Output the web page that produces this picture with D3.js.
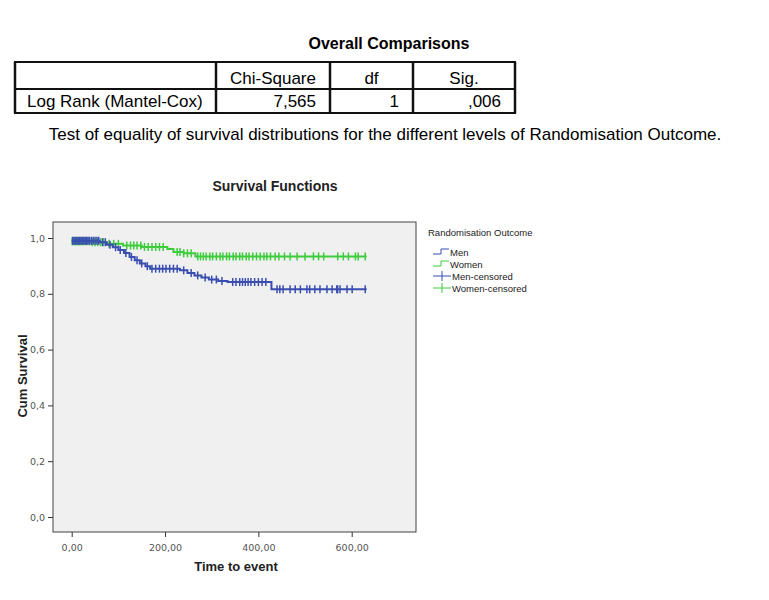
<!DOCTYPE html>
<html>
<head>
<meta charset="utf-8">
<script src="https://cdn.jsdelivr.net/npm/d3@7"></script>
<style>
  body { margin: 0; background: #fff; }
  svg { display: block; font-family: "Liberation Sans", Arial, sans-serif; }
</style>
</head>
<body>
<svg id="chart" width="769" height="600"></svg>
<script>
// Test table
const tableHeader = ["", "Chi-Square", "df", "Sig."];
const tableRow = ["Log Rank (Mantel-Cox)", "7,565", "1", ",006"];

// Kaplan-Meier steps: [time, cumulative survival after that time]
const menSteps = [
  [0, 0.990], [60, 0.985], [75, 0.976], [88, 0.967], [100, 0.957], [112, 0.946],
  [124, 0.932], [135, 0.920], [146, 0.909], [158, 0.899], [168, 0.890], [232, 0.884],
  [248, 0.875], [263, 0.866], [278, 0.858], [294, 0.851], [314, 0.846], [334, 0.842],
  [428, 0.816]
];
const womenSteps = [
  [0, 0.988], [40, 0.985], [75, 0.979], [110, 0.973], [150, 0.968], [205, 0.961],
  [218, 0.950], [240, 0.945], [265, 0.934]
];
const endTime = 632;

// censored observation times
const menCensored = [2, 5, 8, 11, 14, 17, 20, 23, 26, 29, 32, 35, 38, 42, 46, 50, 54, 58,
  66, 72, 82, 94, 104, 116, 128, 140, 150, 162, 172, 180, 188, 195, 202, 210, 218, 226,
  240, 256, 270, 286, 300, 310, 322, 345, 352, 360, 366, 372, 378, 384, 392, 400, 408,
  416, 440, 446, 453, 468, 479, 490, 504, 510, 521, 532, 547, 558, 568, 570, 575, 590,
  601, 629];
const womenCensored = [1, 3, 6, 9, 12, 15, 18, 21, 25, 29, 33, 38, 44, 50, 56, 62, 68, 80,
  90, 100, 118, 126, 133, 140, 148, 156, 164, 172, 180, 188, 196, 226, 232, 240, 248, 256,
  270, 276, 282, 288, 296, 302, 310, 318, 324, 332, 338, 346, 352, 360, 366, 374, 380,
  388, 396, 404, 412, 418, 426, 436, 444, 456, 468, 483, 500, 518, 529, 540, 570, 582,
  593, 608, 614, 629];

const xTicks = [0, 200, 400, 600];
const yTicks = [0, 0.2, 0.4, 0.6, 0.8, 1.0];

const blue = "#3a4db1";
const green = "#3ccc3c";

const svg = d3.select("#chart");

// ---------- table ----------
svg.append("text")
  .attr("x", 389).attr("y", 49)
  .attr("text-anchor", "middle")
  .attr("font-size", 16).attr("font-weight", "bold")
  .text("Overall Comparisons");

const colX = [15, 216, 330, 413, 515];
const rowY = [62, 89, 113];
const tbl = svg.append("g");
rowY.forEach(y => tbl.append("line").attr("x1", colX[0] - 1).attr("x2", colX[4] + 1)
  .attr("y1", y).attr("y2", y).attr("stroke", "#111").attr("stroke-width", 2));
colX.forEach(x => tbl.append("line").attr("x1", x).attr("x2", x)
  .attr("y1", rowY[0]).attr("y2", rowY[2]).attr("stroke", "#111").attr("stroke-width", 2.5));

tableHeader.forEach((t, i) => {
  if (!t) return;
  tbl.append("text")
    .attr("x", (colX[i] + colX[i + 1]) / 2).attr("y", 84)
    .attr("text-anchor", "middle").attr("font-size", 17)
    .text(t);
});
tableRow.forEach((t, i) => {
  tbl.append("text")
    .attr("x", i === 0 ? 27 : colX[i + 1] - 14).attr("y", 107)
    .attr("text-anchor", i === 0 ? "start" : "end").attr("font-size", 17)
    .text(t);
});

svg.append("text")
  .attr("x", 385).attr("y", 140)
  .attr("text-anchor", "middle").attr("font-size", 17)
  .text("Test of equality of survival distributions for the different levels of Randomisation Outcome.");

// ---------- chart ----------
svg.append("text")
  .attr("x", 275).attr("y", 191)
  .attr("text-anchor", "middle").attr("font-size", 14).attr("font-weight", "bold")
  .attr("fill", "#222")
  .text("Survival Functions");

const plot = { left: 53, right: 416, top: 222, bottom: 532 };
const x = d3.scaleLinear().domain([0, 600]).range([71.7, 351.7]);
const y = d3.scaleLinear().domain([0, 1]).range([517, 238]);

svg.append("rect")
  .attr("x", plot.left).attr("y", plot.top)
  .attr("width", plot.right - plot.left).attr("height", plot.bottom - plot.top)
  .attr("fill", "#f0f0f0").attr("stroke", "#444").attr("stroke-width", 1);

const fmt = d3.formatLocale({ decimal: ",", thousands: ".", grouping: [3], currency: ["", ""] });

const xAxis = svg.append("g")
  .attr("transform", `translate(0,${plot.bottom})`)
  .call(d3.axisBottom(x).tickValues(xTicks).tickSize(5).tickFormat(fmt.format(".2f")));
const yAxis = svg.append("g")
  .attr("transform", `translate(${plot.left},0)`)
  .call(d3.axisLeft(y).tickValues(yTicks).tickSize(5).tickFormat(fmt.format(".1f")));
[xAxis, yAxis].forEach(a => {
  a.select(".domain").remove();
  a.selectAll(".tick line").attr("stroke", "#333");
  a.selectAll(".tick text").attr("fill", "#555").attr("font-size", 9.5)
    .attr("font-family", "'DejaVu Sans', sans-serif");
});
xAxis.selectAll(".tick text").attr("dy", "1.2em");

svg.append("text")
  .attr("x", 236).attr("y", 571)
  .attr("text-anchor", "middle").attr("font-size", 13).attr("font-weight", "bold")
  .attr("fill", "#222")
  .text("Time to event");
svg.append("text")
  .attr("transform", "translate(27,376) rotate(-90)")
  .attr("text-anchor", "middle").attr("font-size", 13).attr("font-weight", "bold")
  .attr("fill", "#222")
  .text("Cum Survival");

function survAt(steps, t) {
  let s = steps[0][1];
  steps.forEach(d => { if (d[0] <= t) s = d[1]; });
  return s;
}

const line = d3.line().x(d => x(d[0])).y(d => y(d[1])).curve(d3.curveStepAfter);

function drawSeries(steps, censored, color) {
  const pts = steps.concat([[endTime, steps[steps.length - 1][1]]]);
  svg.append("path").datum(pts)
    .attr("d", line).attr("fill", "none")
    .attr("stroke", color).attr("stroke-width", 2);
  svg.append("g").selectAll("line").data(censored).enter().append("line")
    .attr("x1", d => x(d)).attr("x2", d => x(d))
    .attr("y1", d => y(survAt(steps, d)) - 4)
    .attr("y2", d => y(survAt(steps, d)) + 4)
    .attr("stroke", color).attr("stroke-width", 1.5);
}
drawSeries(womenSteps, womenCensored, green);
drawSeries(menSteps, menCensored, blue);

// ---------- legend ----------
const legend = svg.append("g").attr("font-size", 9.5).attr("fill", "#222");
legend.append("text").attr("x", 428).attr("y", 236).text("Randomisation Outcome");
const legendItems = [
  { label: "Men", color: blue, type: "step" },
  { label: "Women", color: green, type: "step" },
  { label: "Men-censored", color: blue, type: "cens" },
  { label: "Women-censored", color: green, type: "cens" }
];
legendItems.forEach((d, i) => {
  const cy = 252 + i * 12;
  if (d.type === "step") {
    legend.append("path")
      .attr("d", `M433,${cy + 2}H441V${cy - 3}H449`)
      .attr("fill", "none").attr("stroke", d.color).attr("stroke-width", 1);
  } else {
    legend.append("line").attr("x1", 433).attr("x2", 451).attr("y1", cy).attr("y2", cy)
      .attr("stroke", d.color).attr("stroke-width", 1);
    legend.append("line").attr("x1", 442).attr("x2", 442).attr("y1", cy - 5).attr("y2", cy + 5)
      .attr("stroke", d.color).attr("stroke-width", 1);
  }
  legend.append("text").attr("x", d.type === "step" ? 450 : 452).attr("y", cy + 3.5).text(d.label);
});
</script>
</body>
</html>
